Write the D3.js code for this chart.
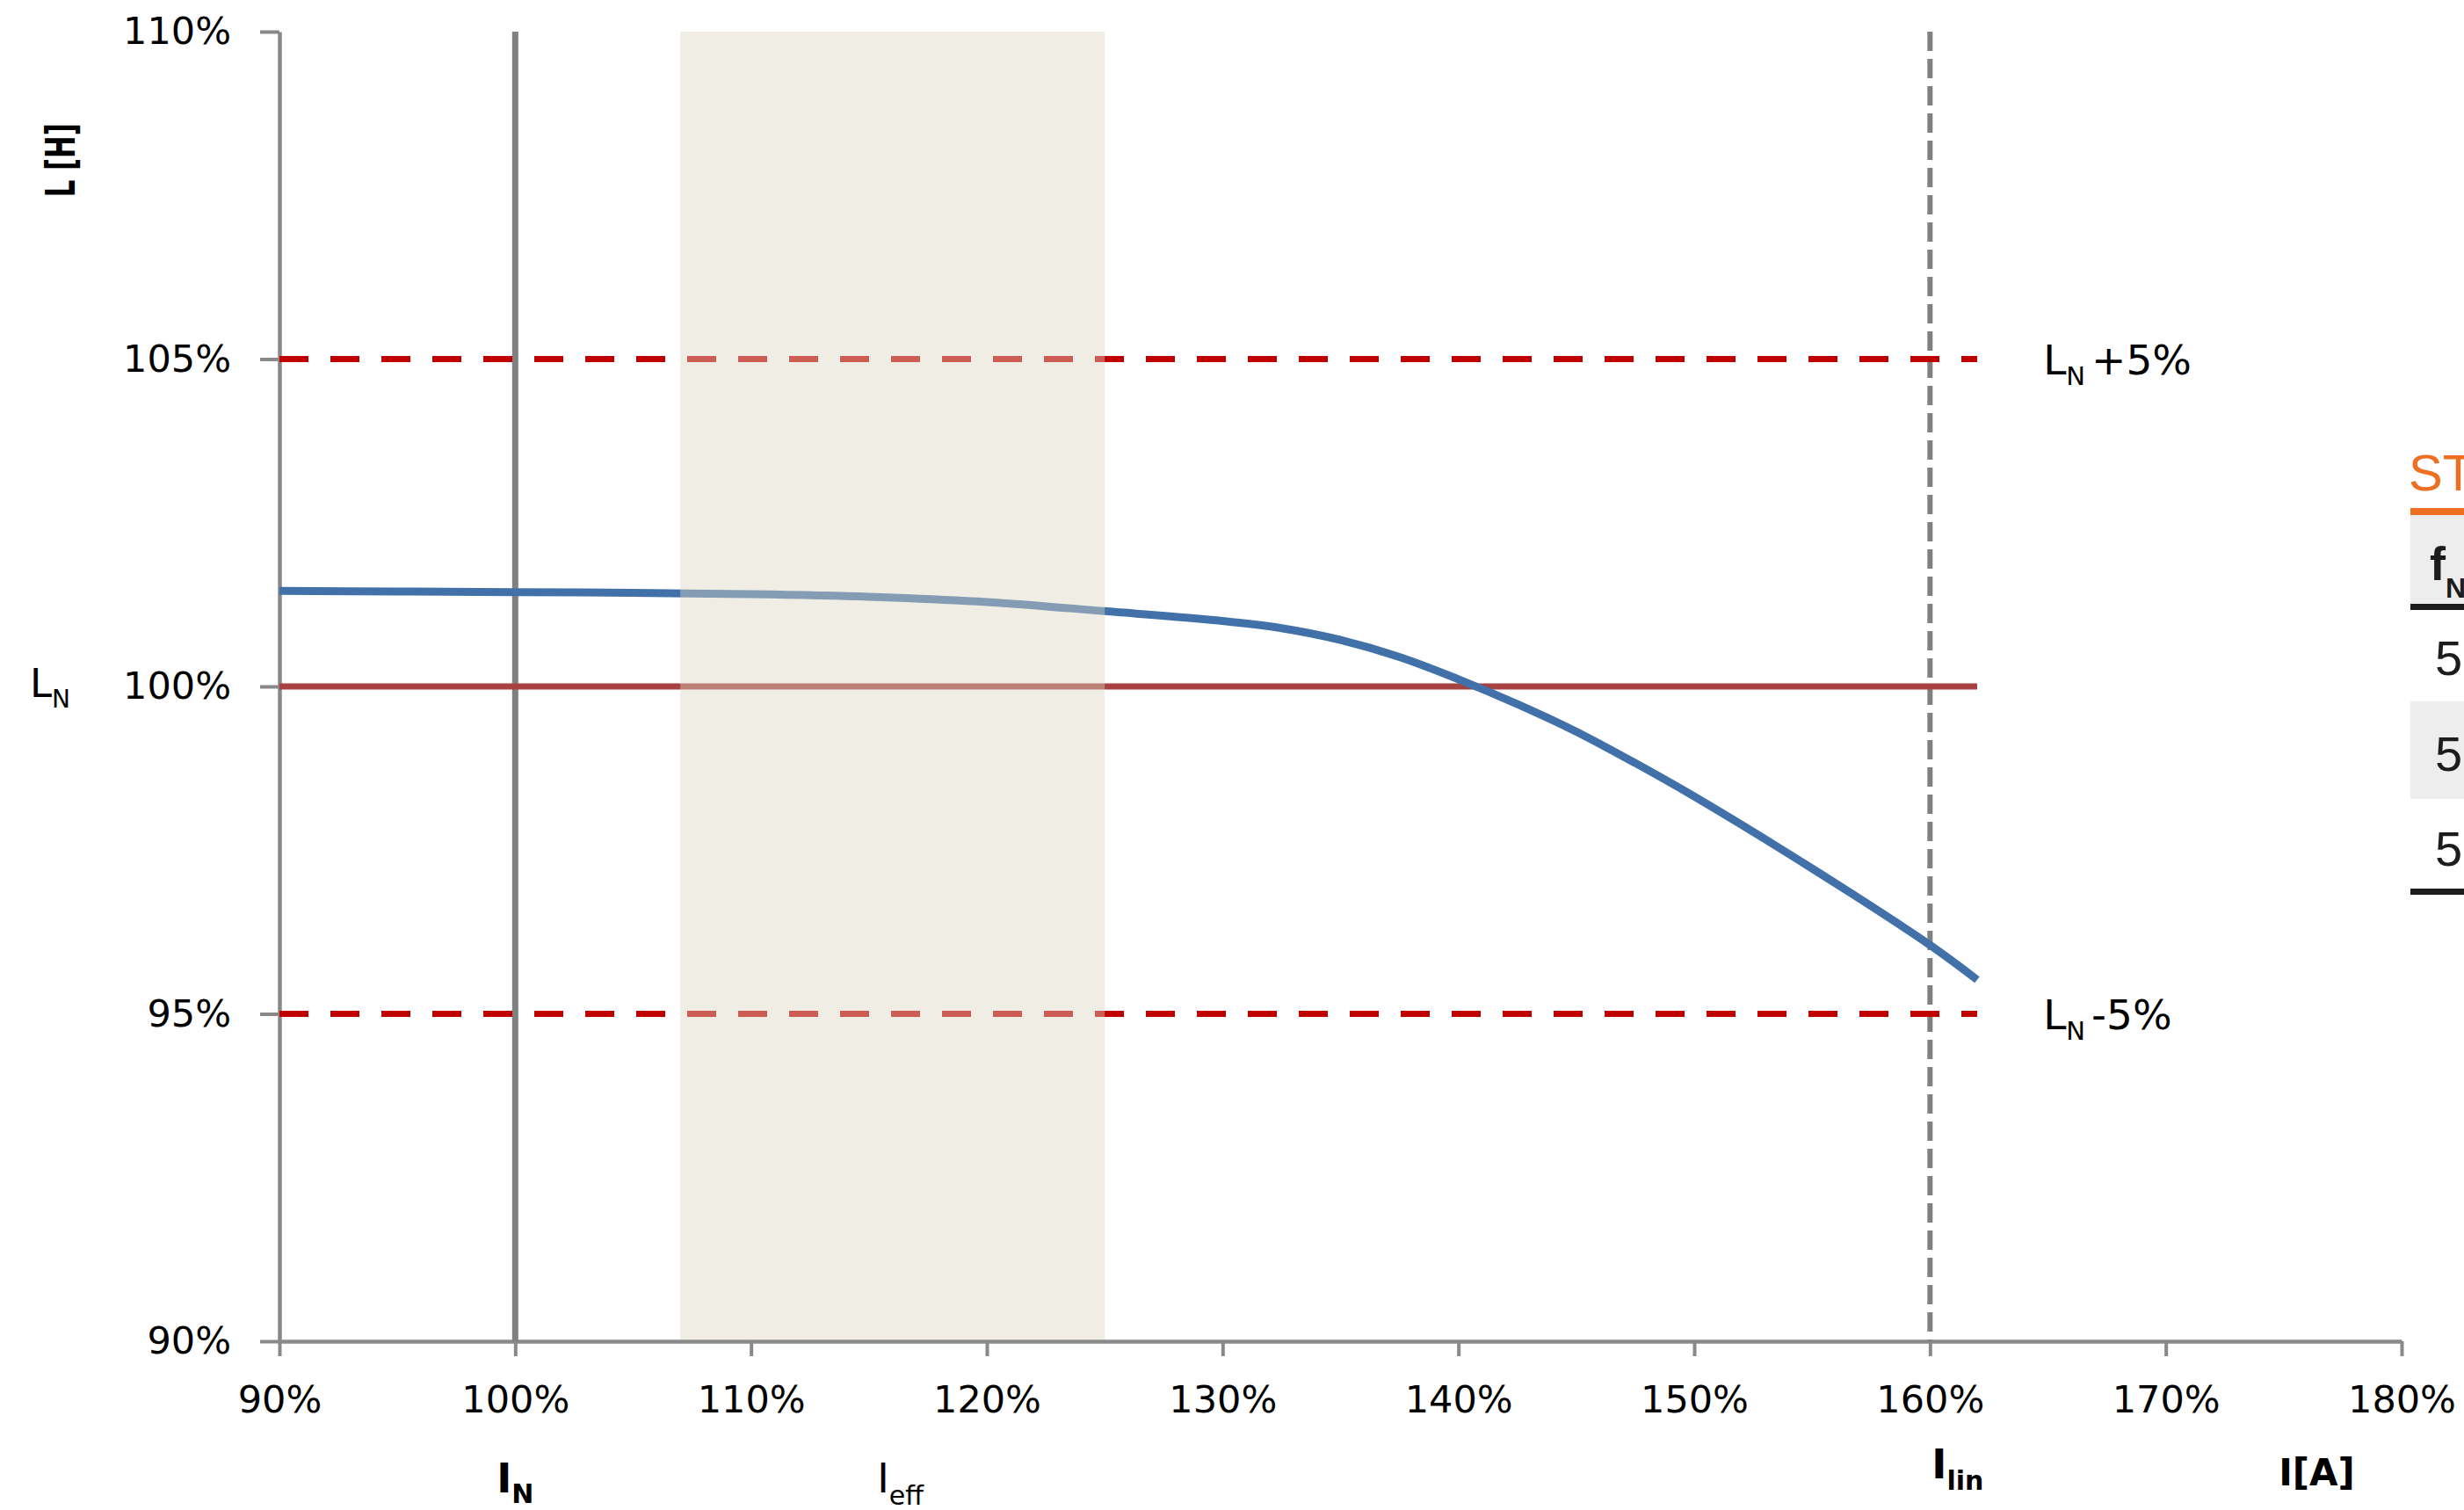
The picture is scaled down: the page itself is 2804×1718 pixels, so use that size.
<!DOCTYPE html>
<html>
<head>
<meta charset="utf-8">
<script src="https://cdn.jsdelivr.net/npm/d3@7/dist/d3.min.js"></script>
<style>
  body { margin: 0; background: #fff; }
  svg { display: block; }
  .axis path, .axis line { stroke: #898989; }
  .axis text { font-family: "DejaVu Sans", sans-serif; font-size: 43px; fill: #000; }
</style>
</head>
<body>
<div id="canvas"></div>
<script>
// chart values
var xTicks = [90, 100, 110, 120, 130, 140, 150, 160, 170, 180];
var yTicks = [90, 95, 100, 105, 110];

// inductance curve L(I), both in % of nominal
var currentPct = [90, 95, 100, 105, 110, 115, 120, 125, 130, 132.5, 135, 137.5, 140, 142.5, 145, 147.5, 150, 155, 160, 162];
var inductancePct = [101.46, 101.45, 101.44, 101.43, 101.41, 101.37, 101.29, 101.15, 101.00, 100.89, 100.71, 100.45, 100.11, 99.73, 99.31, 98.83, 98.32, 97.22, 96.05, 95.52];

var nominalL = 100;
var toleranceL = [105, 95];
var toleranceText = ["+5%", "-5%"];
var nominalI = 100;
var linearI = 160;
var effBand = [107, 125];
var refLineEnd = 162;

// right-hand table fragment (cut off by the picture edge)
var tableTitle = "ST";
var tableRows = ["5", "5", "5"];

var W = 2804, H = 1718;

var svg = d3.select("#canvas").append("svg")
	.attr("width", W)
	.attr("height", H);

var x = d3.scaleLinear().domain([90, 180]).range([318, 2733]);
var y = d3.scaleLinear().domain([90, 110]).range([1526, 36]);

// axes
svg.append("g")
	.attr("class", "axis")
	.attr("transform", "translate(" + x(90) + ",0)")
	.call(d3.axisLeft(y).tickValues(yTicks).tickSize(22).tickSizeOuter(0).tickPadding(33)
		.tickFormat(function(d) { return d + "%"; }));

svg.append("g")
	.attr("class", "axis")
	.attr("transform", "translate(0," + y(90) + ")")
	.call(d3.axisBottom(x).tickValues(xTicks).tickSize(17).tickSizeOuter(0).tickPadding(33)
		.tickFormat(function(d) { return d + "%"; }));

svg.selectAll(".axis path").attr("stroke-width", 4.5);
svg.selectAll(".axis line").attr("stroke-width", 4);

// vertical marker at I_N
svg.append("line")
	.attr("x1", x(nominalI)).attr("x2", x(nominalI))
	.attr("y1", y(110)).attr("y2", y(90))
	.attr("stroke", "#808080").attr("stroke-width", 7);

// dashed vertical marker at I_lin
svg.append("line")
	.attr("x1", x(linearI)).attr("x2", x(linearI))
	.attr("y1", y(110)).attr("y2", y(90))
	.attr("stroke", "#808080").attr("stroke-width", 6)
	.attr("stroke-dasharray", "22 9");

// +/-5% tolerance lines
svg.selectAll(".tol")
	.data(toleranceL)
	.enter().append("line")
	.attr("class", "tol")
	.attr("x1", x(90)).attr("x2", x(refLineEnd))
	.attr("y1", function(d) { return y(d); })
	.attr("y2", function(d) { return y(d); })
	.attr("stroke", "#c00000").attr("stroke-width", 7)
	.attr("stroke-dasharray", "33 25");

// nominal inductance line
svg.append("line")
	.attr("x1", x(90)).attr("x2", x(refLineEnd))
	.attr("y1", y(nominalL)).attr("y2", y(nominalL))
	.attr("stroke", "#a84141").attr("stroke-width", 7);

// the curve
var line = d3.line()
	.x(function(d, i) { return x(currentPct[i]); })
	.y(function(d) { return y(d); })
	.curve(d3.curveCatmullRom.alpha(0.5));

svg.append("path")
	.datum(inductancePct)
	.attr("d", line)
	.attr("fill", "none")
	.attr("stroke", "#4271a9")
	.attr("stroke-width", 9)
	.attr("stroke-linecap", "butt");

// I_eff band, translucent over the lines
svg.append("rect")
	.attr("x", x(effBand[0]))
	.attr("width", x(effBand[1]) - x(effBand[0]))
	.attr("y", y(110))
	.attr("height", y(90) - y(110) - 2)
	.attr("fill", "rgb(220,213,195)")
	.attr("fill-opacity", 0.43);

// labels
var font = "DejaVu Sans, sans-serif";

function subLabel(px, py, main, sub, opts) {
	var t = svg.append("text")
		.attr("x", px).attr("y", py)
		.attr("font-family", font)
		.attr("font-size", opts.size)
		.attr("font-weight", opts.bold ? "bold" : "normal")
		.attr("text-anchor", opts.anchor || "start");
	t.append("tspan").text(main);
	t.append("tspan")
		.attr("font-size", opts.subSize)
		.attr("dy", opts.subDy)
		.text(sub);
	if (opts.suffix) {
		t.append("tspan")
			.attr("dx", 7)
			.attr("dy", -opts.subDy)
			.text(opts.suffix);
	}
	return t;
}

// y axis title
svg.append("text")
	.attr("transform", "translate(85," + ((y(110) + y(105)) / 2 - 40) + ") rotate(-90)")
	.attr("font-family", font)
	.attr("font-size", 46)
	.attr("font-weight", "bold")
	.attr("text-anchor", "middle")
	.attr("textLength", 84)
	.attr("lengthAdjust", "spacingAndGlyphs")
	.text("L [H]");

// L_N next to 100%
subLabel(34, y(nominalL) + 12, "L", "N", { size: 45, subSize: 28, subDy: 12 });

// tolerance labels
toleranceL.forEach(function(v, i) {
	subLabel(x(164.8), y(v) + 17, "L", "N", { size: 47, subSize: 29, subDy: 12, suffix: toleranceText[i] });
});

// current markers below the axis
subLabel(x(nominalI), 1698, "I", "N", { size: 46, subSize: 30, subDy: 12, bold: true, anchor: "middle" });
subLabel(x(effBand[0]) + 224, 1698, "I", "eff", { size: 46, subSize: 30, subDy: 14, anchor: "start" });
subLabel(x(linearI) + 2, 1682, "I", "lin", { size: 46, subSize: 30, subDy: 13, bold: true, anchor: "start" });

svg.append("text")
	.attr("x", x(176.4)).attr("y", 1690)
	.attr("font-family", font)
	.attr("font-size", 42)
	.attr("font-weight", "bold")
	.attr("text-anchor", "middle")
	.text("I[A]");

// table fragment at the right edge
var tx = 2743;
var tab = svg.append("g").attr("font-family", "Liberation Sans, Arial, sans-serif");

tab.append("text")
	.attr("x", tx - 2).attr("y", 558)
	.attr("font-size", 58)
	.attr("fill", "#ef6f22")
	.text(tableTitle);

tab.append("rect").attr("x", tx).attr("y", 578).attr("width", W - tx).attr("height", 8).attr("fill", "#ef6f22");
tab.append("rect").attr("x", tx).attr("y", 586).attr("width", W - tx).attr("height", 101).attr("fill", "#ededed");
tab.append("rect").attr("x", tx).attr("y", 687).attr("width", W - tx).attr("height", 7).attr("fill", "#1c1c1c");

var head = tab.append("text")
	.attr("x", tx + 22).attr("y", 660)
	.attr("font-size", 54)
	.attr("font-weight", "bold")
	.attr("fill", "#1c1c1c");
head.append("tspan").text("f");
head.append("tspan").attr("font-size", 32).attr("dy", 20).text("N");

var rowH = 108.5;
tab.selectAll(".rowbg")
	.data(tableRows)
	.enter().filter(function(d, i) { return i % 2 === 1; })
	.append("rect")
	.attr("class", "rowbg")
	.attr("x", tx).attr("width", W - tx)
	.attr("y", 798).attr("height", 111)
	.attr("fill", "#ededed");

tab.selectAll(".cell")
	.data(tableRows)
	.enter().append("text")
	.attr("class", "cell")
	.attr("x", tx + 28)
	.attr("y", function(d, i) { return 768 + i * rowH; })
	.attr("font-size", 56)
	.attr("fill", "#1c1c1c")
	.text(function(d) { return d; });

tab.append("rect").attr("x", tx).attr("y", 1011).attr("width", W - tx).attr("height", 7).attr("fill", "#1c1c1c");
</script>
</body>
</html>
